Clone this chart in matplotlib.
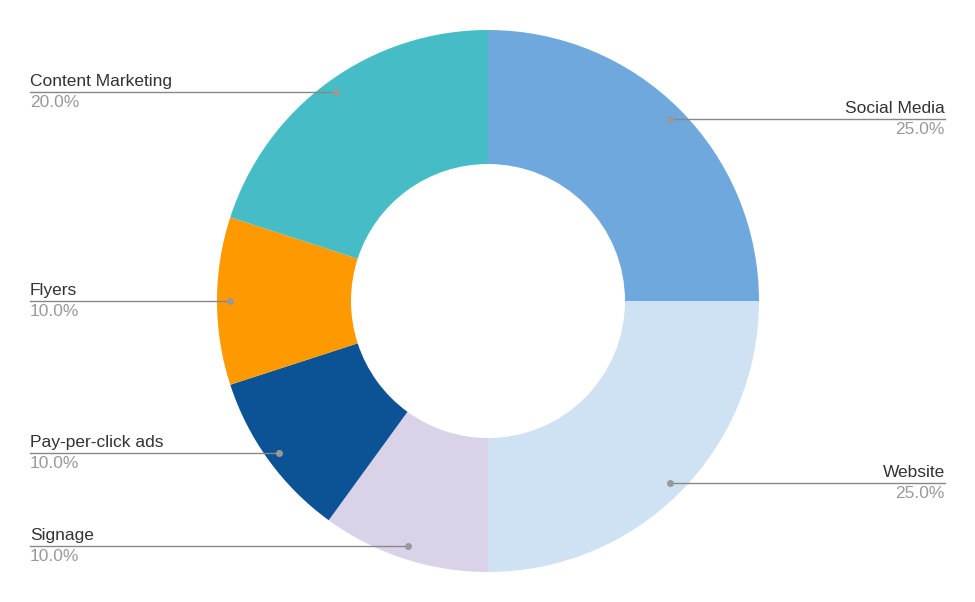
import matplotlib
matplotlib.use("Agg")
import matplotlib.pyplot as plt
import numpy as np

categories = ["Social Media", "Website", "Signage", "Pay-per-click ads", "Flyers", "Content Marketing"]
values = [25.0, 25.0, 10.0, 10.0, 10.0, 20.0]
colors = ["#6fa8dc", "#cfe2f3", "#d9d2e9", "#0b5394", "#ff9900", "#46bdc6"]

plt.rcParams['font.family'] = ['Liberation Sans', 'DejaVu Sans']
fig = plt.figure(figsize=(9.75, 6.02), dpi=100)
ax = fig.add_axes([0, 0, 1, 1])
cx, cy, R = 488, 301, 271
wedges, _ = ax.pie(values, colors=colors, startangle=90, counterclock=False,
                   center=(cx, cy), radius=R, wedgeprops=dict(width=134, linewidth=0))
ax.set_xlim(0, 975)
ax.set_ylim(0, 602)
ax.set_aspect('equal')
ax.axis('off')

total = sum(values)
cum = 0
for cat, v in zip(categories, values):
    mid = (cum + v / 2) / total * 2 * np.pi
    cum += v
    px = cx + 258 * np.sin(mid)
    py = cy + 258 * np.cos(mid)
    ax.plot([px], [py], 'o', color='#999999', ms=4, zorder=5)
    if px > cx:
        ax.plot([px, 945], [py, py], color='#888888', lw=1)
        ax.text(945, py + 3, cat, ha='right', va='bottom', fontsize=12.5, color='#333333')
        ax.text(945, py - 3, f"{v:.1f}%", ha='right', va='top', fontsize=12.5, color='#999999')
    else:
        ax.plot([30, px], [py, py], color='#888888', lw=1)
        ax.text(30, py + 3, cat, ha='left', va='bottom', fontsize=12.5, color='#333333')
        ax.text(30, py - 3, f"{v:.1f}%", ha='left', va='top', fontsize=12.5, color='#999999')

fig.savefig("out.png", dpi=100)
